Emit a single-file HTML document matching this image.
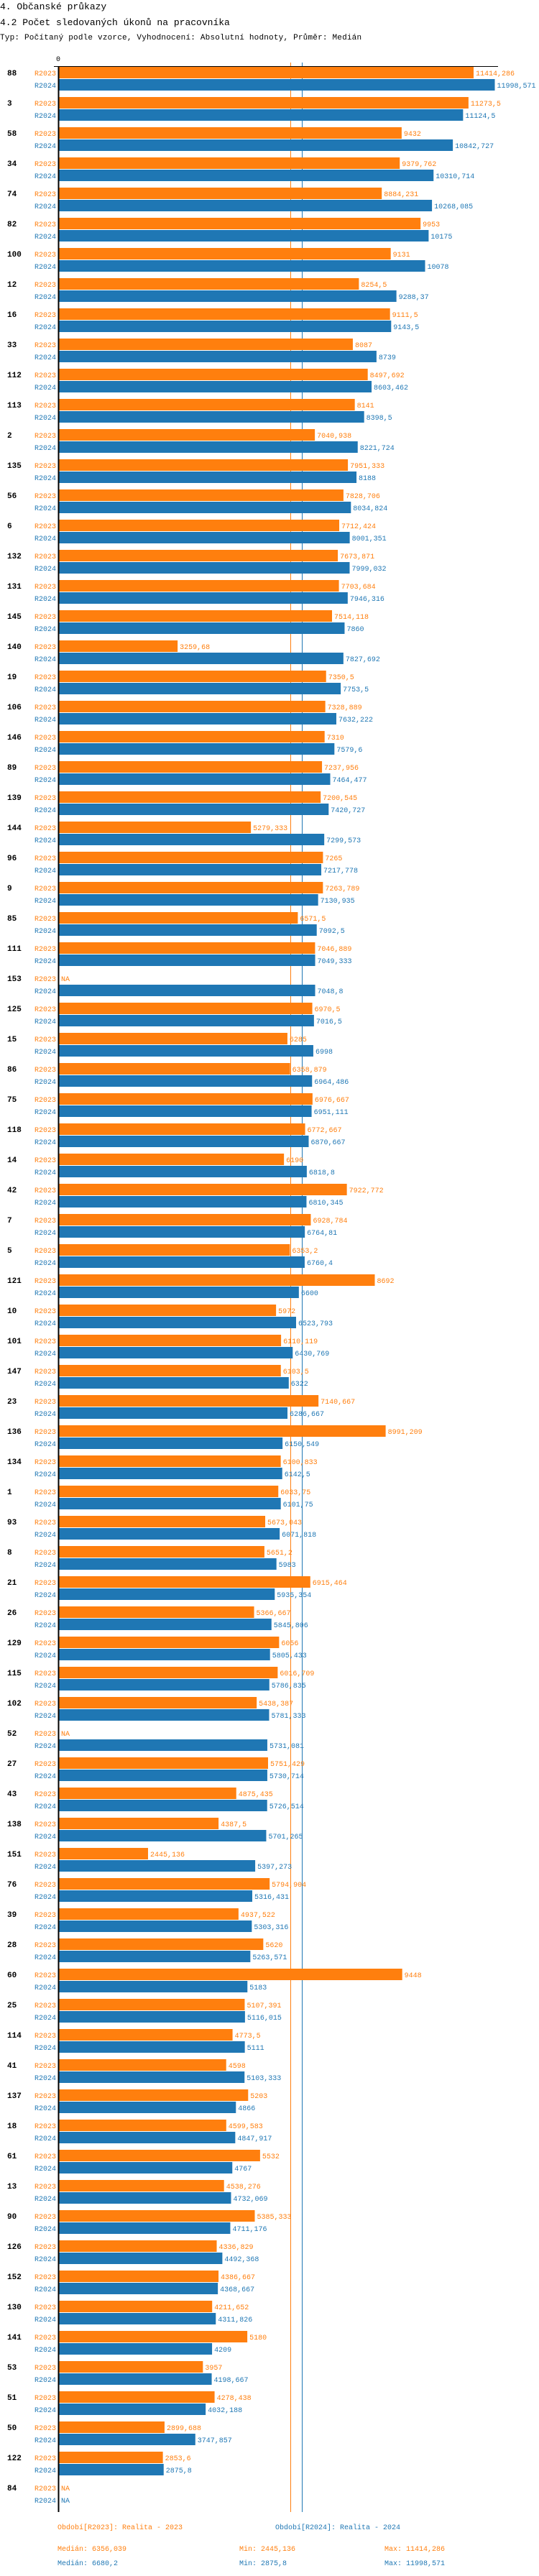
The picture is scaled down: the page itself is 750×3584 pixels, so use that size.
<!DOCTYPE html>
<html><head><meta charset="utf-8">
<style>
html,body{margin:0;padding:0;background:#fff;}
svg{display:block;}
text{font-family:"Liberation Mono","DejaVu Sans Mono",monospace;}
</style></head>
<body>
<svg id="chart" width="750" height="3584" viewBox="0 0 750 3584" xmlns="http://www.w3.org/2000/svg">
<text x="0" y="13" font-size="13" fill="#000">4. Občanské průkazy</text>
<text x="0" y="35" font-size="13" fill="#000">4.2 Počet sledovaných úkonů na pracovníka</text>
<text x="0" y="55" font-size="11" letter-spacing="0.2" fill="#000">Typ: Počítaný podle vzorce, Vyhodnocení: Absolutní hodnoty, Průměr: Medián</text>
<text x="81" y="85" font-size="10" text-anchor="middle" fill="#000">0</text>
<g id="lines"></g>
<g id="bars"></g>
<line x1="75" y1="92.5" x2="693" y2="92.5" stroke="#000" stroke-width="1"/>
<line x1="81.5" y1="92" x2="81.5" y2="3495" stroke="#000" stroke-width="2"/>
<g>
<text x="80" y="3519" font-size="10" fill="#ff7f0e">Období[R2023]: Realita - 2023</text>
<text x="383" y="3519" font-size="10" fill="#1f77b4">Období[R2024]: Realita - 2024</text>
<text x="80" y="3549" font-size="10" fill="#ff7f0e">Medián: 6356,039</text>
<text x="333" y="3549" font-size="10" fill="#ff7f0e">Min: 2445,136</text>
<text x="535" y="3549" font-size="10" fill="#ff7f0e">Max: 11414,286</text>
<text x="80" y="3569" font-size="10" fill="#1f77b4">Medián: 6680,2</text>
<text x="333" y="3569" font-size="10" fill="#1f77b4">Min: 2875,8</text>
<text x="535" y="3569" font-size="10" fill="#1f77b4">Max: 11998,571</text>
</g>
</svg>
<script>
const categories = ["88","3","58","34","74","82","100","12","16","33","112","113","2","135","56","6","132","131","145","140","19","106","146","89","139","144","96","9","85","111","153","125","15","86","75","118","14","42","7","5","121","10","101","147","23","136","134","1","93","8","21","26","129","115","102","52","27","43","138","151","76","39","28","60","25","114","41","137","18","61","13","90","126","152","130","141","53","51","50","122","84"];
const values2023 = [11414.286,11273.5,9432,9379.762,8884.231,9953,9131,8254.5,9111.5,8087,8497.692,8141,7040.938,7951.333,7828.706,7712.424,7673.871,7703.684,7514.118,3259.68,7350.5,7328.889,7310,7237.956,7200.545,5279.333,7265,7263.789,6571.5,7046.889,null,6970.5,6285,6358.879,6976.667,6772.667,6190,7922.772,6928.784,6353.2,8692,5972,6110.119,6103.5,7140.667,8991.209,6100.833,6033.75,5673.043,5651.2,6915.464,5366.667,6056,6016.709,5438.387,null,5751.429,4875.435,4387.5,2445.136,5794.904,4937.522,5620,9448,5107.391,4773.5,4598,5203,4599.583,5532,4538.276,5385.333,4336.829,4386.667,4211.652,5180,3957,4278.438,2899.688,2853.6,null];
const values2024 = [11998.571,11124.5,10842.727,10310.714,10268.085,10175,10078,9288.37,9143.5,8739,8603.462,8398.5,8221.724,8188,8034.824,8001.351,7999.032,7946.316,7860,7827.692,7753.5,7632.222,7579.6,7464.477,7420.727,7299.573,7217.778,7130.935,7092.5,7049.333,7048.8,7016.5,6998,6964.486,6951.111,6870.667,6818.8,6810.345,6764.81,6760.4,6600,6523.793,6430.769,6322,6286.667,6150.549,6142.5,6101.75,6071.818,5983,5935.354,5845.806,5805.433,5786.835,5781.333,5731.081,5730.714,5726.514,5701.265,5397.273,5316.431,5303.316,5263.571,5183,5116.015,5111,5103.333,4866,4847.917,4767,4732.069,4711.176,4492.368,4368.667,4311.826,4209,4198.667,4032.188,3747.857,2875.8,null];
const medians = [6356.039, 6680.2];
const seriesNames = ["R2023","R2024"];

const NS = "http://www.w3.org/2000/svg";
const X0 = 82.5, PXPER = 606 / 11998.571;
function xScale(v){ return X0 + v * PXPER; }
function yGroup(i){ return 93 + 42 * i; }
const colors = ["#ff7f0e","#1f77b4"];
function fmt(v){ return String(v).replace('.', ','); }
function mk(tag, attrs, parent){
  const e = document.createElementNS(NS, tag);
  for (const k in attrs) e.setAttribute(k, attrs[k]);
  parent.appendChild(e); return e;
}
const linesG = document.getElementById('lines');
const barsG = document.getElementById('bars');
medians.forEach((m, s) => {
  const x = Math.round(xScale(m)) + 0.5;
  const l = mk('line', {x1:x, x2:x, y1:87, y2:3495, stroke:colors[s], 'stroke-width':1}, linesG);
  
  
});
categories.forEach((c, i) => {
  const y = yGroup(i);
  const g = mk('g', {}, barsG);
  
  
  const cl = mk('text', {x:10, y:y+12, 'font-size':11, 'font-weight':'bold', fill:'#000'}, g);
  cl.textContent = c;
  
  
  [values2023, values2024].forEach((arr, s) => {
    const by = y + (s === 0 ? 0 : 17);
    const v = arr[i];
    const sl = mk('text', {x:78, y:by+12, 'font-size':10, 'text-anchor':'end', fill:colors[s]}, g);
    sl.textContent = seriesNames[s];
    
    
    let tx = 85;
    if (v !== null) {
      const w = xScale(v) - X0;
      const r = mk('rect', {x:X0, y:by, width:w, height:16, fill:colors[s]}, g);
      
      
      tx = xScale(v) + 3;
    }
    const vl = mk('text', {x:tx, y:by+12, 'font-size':10, fill:colors[s]}, g);
    vl.textContent = v === null ? 'NA' : fmt(v);
    
    
  });
});
</script>
</body></html>
